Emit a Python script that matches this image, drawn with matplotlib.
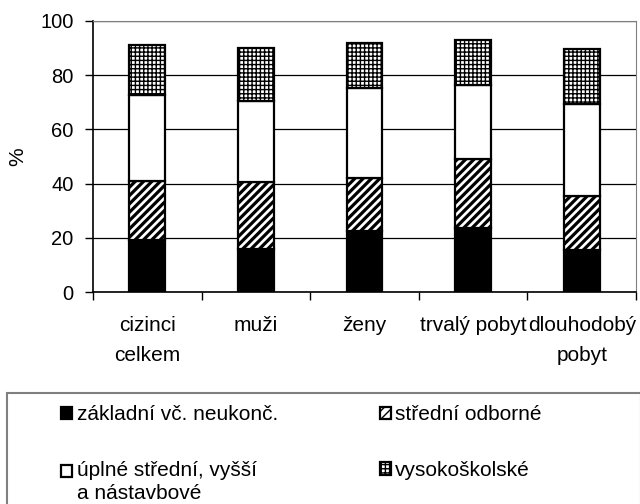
import matplotlib
matplotlib.use('Agg')
import matplotlib.pyplot as plt
from matplotlib.patches import Rectangle
from matplotlib.legend_handler import HandlerPatch
import numpy as np

plt.rcParams['font.family'] = ['Liberation Sans', 'DejaVu Sans']

# Data (% of foreigners by education)
categories = ['cizinci\ncelkem', 'muži', 'ženy', 'trvalý pobyt', 'dlouhodobý\npobyt']
zakladni = [19.1, 15.8, 22.6, 23.5, 15.4]
stredni_odborne = [22.0, 24.9, 19.4, 25.6, 20.1]
uplne_stredni = [31.5, 29.7, 33.1, 27.4, 34.0]
vysokoskolske = [18.5, 19.8, 16.9, 16.5, 20.0]

series = [
    ('základní vč. neukonč.', zakladni, 'black', ''),
    ('střední odborné', stredni_odborne, 'white', '////'),
    ('úplné střední, vyšší\na nástavbové', uplne_stredni, 'white', ''),
    ('vysokoškolské', vysokoskolske, 'white', '++++'),
]

fig = plt.figure(figsize=(6.4, 5.04), dpi=100)
ax = fig.add_axes([93 / 640, 1 - 292 / 504, 543 / 640, 271 / 504])

x = np.arange(len(categories))
bottom = np.zeros(len(categories))
handles = []
for label, vals, fc, hatch in series:
    lw_h = 2.3 if hatch == '////' else 1.0
    with plt.rc_context({'hatch.linewidth': lw_h, 'hatch.color': 'black'}):
        bars = ax.bar(x, vals, width=0.33, bottom=bottom, color=fc,
                      edgecolor='black', linewidth=1.6, hatch=hatch,
                      label=label, zorder=3)
    handles.append(bars)
    bottom += np.array(vals)

ax.set_xlim(-0.5, len(categories) - 0.5)
ax.set_ylim(0, 100)
ax.set_yticks(range(0, 101, 20))
ax.yaxis.grid(True, color='black', linewidth=0.9, zorder=0)
ax.set_axisbelow(True)

# category boundaries get ticks, labels sit between them
ax.set_xticks(np.arange(-0.5, len(categories), 1.0))
ax.set_xticklabels([])
ax.set_xticks(x, minor=True)
ax.set_xticklabels(categories, minor=True, fontsize=15, linespacing=1.75)
ax.tick_params(axis='x', which='minor', length=0, pad=17)
ax.tick_params(axis='x', which='major', length=6, direction='out', width=1)
ax.tick_params(axis='y', labelsize=14.5, length=6, width=1, pad=8)

for s in ('top', 'right'):
    ax.spines[s].set_color('#808080')
for s in ('left', 'bottom'):
    ax.spines[s].set_color('black')
    ax.spines[s].set_linewidth(1.2)

ax.set_ylabel('%', fontsize=15)
ax.yaxis.set_label_coords((27 - 93) / 543, 0.5)

# legend box
fig.patches.append(Rectangle((7 / 640, -0.1), 0.99, 0.1 + 111 / 504,
                             transform=fig.transFigure, facecolor='white',
                             edgecolor='#808080', linewidth=1.5))


def first_line_patch(legend, orig_handle, xdescent, ydescent, width, height, fontsize):
    # put the marker next to the first line of a two-line label
    return Rectangle((-xdescent, -ydescent + 0.55 * fontsize), width, height)


order = [handles[0], handles[2], handles[1], handles[3]]
fig.legend(order, [h.get_label() for h in order], ncol=2, frameon=False,
           loc='upper left', bbox_to_anchor=(53 / 640, 1 - 397 / 504),
           handlelength=0.53, handleheight=0.53, handletextpad=0.2,
           columnspacing=4.9, labelspacing=1.75, borderaxespad=0,
           prop={'size': 15}, handler_map={handles[2]: HandlerPatch(
               patch_func=first_line_patch,
               update_func=lambda h, o: h.update_from(o[0]))})
for t in fig.legends[0].get_texts():
    t.set_linespacing(1.3)

fig.savefig('out.png', dpi=100)
